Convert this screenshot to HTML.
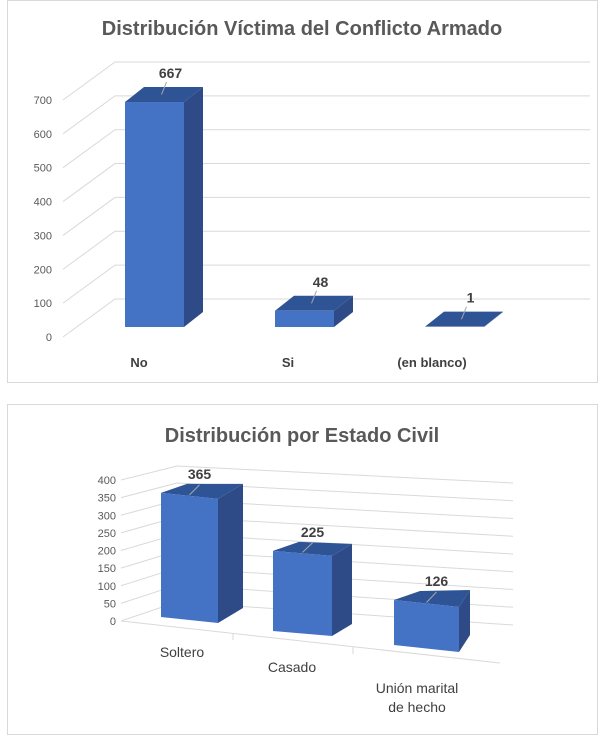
<!DOCTYPE html>
<html><head><meta charset="utf-8"><style>
body{margin:0;background:#fff;width:606px;height:741px;overflow:hidden;font-family:"Liberation Sans",sans-serif}
svg{position:absolute;left:0;top:0}
</style></head><body>
<svg id="c" width="606" height="741">
<rect x="7.5" y="0.5" width="590" height="382" fill="#fff" stroke="#d9d9d9"/>
<text x="302" y="35" text-anchor="middle" font-size="20" font-weight="bold" fill="#595959">Distribución Víctima del Conflicto Armado</text>
<rect x="7.5" y="404.5" width="590" height="330" fill="#fff" stroke="#d9d9d9"/>
<text x="302" y="442" text-anchor="middle" font-size="20" font-weight="bold" fill="#595959">Distribución por Estado Civil</text>
<g id="g1"></g><g id="g2"></g>
</svg>
<script>
const cats1=["No","Si","(en blanco)"];
const vals1=[667,48,1];
const ticks1=[0,100,200,300,400,500,600,700];
const cats2=["Soltero","Casado","Unión marital|de hecho"];
const vals2=[365,225,126];
const ticks2=[0,50,100,150,200,250,300,350,400];
const NS="http://www.w3.org/2000/svg";
function mk(p,t,a){const e=document.createElementNS(NS,t);for(const k in a)e.setAttribute(k,a[k]);p.appendChild(e);return e;}
const g1=document.getElementById('g1'),g2=document.getElementById('g2');
// chart 1
const y1=v=>337-v*0.3386;
ticks1.forEach(t=>{
 const y=y1(t);
 const l=mk(g1,'polyline',{points:`63,${y} 115,${y-38} 590,${y-38}`,fill:'none',stroke:'#d9d9d9','stroke-width':1});
 
 
 const tx=mk(g1,'text',{x:52,y:y+4,'text-anchor':'end','font-size':11,fill:'#595959'});tx.textContent=t;
 
 
});
const bx1=[125,275,425];
vals1.forEach((v,i)=>{
 const x=bx1[i],w=59,dx=19,dy=15,b=327,h=v*0.3373,t=b-h;
 const g=mk(g1,'g',{});
 
 
 mk(g,'polygon',{points:`${x+w},${t} ${x+w+dx},${t-dy} ${x+w+dx},${b-dy} ${x+w},${b}`,fill:'#2f4b87'});
 mk(g,'polygon',{points:`${x},${t} ${x+dx},${t-dy} ${x+w+dx},${t-dy} ${x+w},${t}`,fill:'#2f5496'});
 if(h>1)mk(g,'rect',{x:x,y:t,width:w,height:h,fill:'#4472c4'});
 mk(g,'line',{x1:x+w/2+7,y1:t-dy/2,x2:x+w/2+12,y2:t-20,stroke:'#a6a6a6'});
 const lb=mk(g1,'text',{x:x+w/2+16,y:t-24,'text-anchor':'middle','font-size':14,'font-weight':'bold',fill:'#404040'});lb.textContent=v;
 
 
 const c=mk(g1,'text',{x:[139,288,432][i],y:367,'text-anchor':'middle','font-size':13,'font-weight':'bold',fill:'#404040'});c.textContent=cats1[i];
 
 
});
// chart 2
ticks2.forEach((t,i)=>{
 const yl=621-t*0.3525, yb=602-t*0.34, yr=625-t*0.355;
 const l=mk(g2,'polyline',{points:`121,${yl} 177,${yb} 513,${yr}`,fill:'none',stroke:'#d9d9d9'});
 
 
 const tx=mk(g2,'text',{x:116,y:yl+4,'text-anchor':'end','font-size':11,fill:'#595959'});tx.textContent=t;
 
 
});
mk(g2,'polyline',{points:'121,621 500,663',fill:'none',stroke:'#d9d9d9'});
mk(g2,'line',{x1:233,y1:633,x2:233,y2:640,stroke:'#d9d9d9'});
mk(g2,'line',{x1:353,y1:647,x2:353,y2:654,stroke:'#d9d9d9'});
const geo=[{x:161,w:57,b:617,sk:6,dx:25,dy:-15,s:0.340},{x:273,w:59,b:631,sk:5,dx:20,dy:-12,s:0.356},{x:394,w:65,b:645,sk:7,dx:11,dy:-17,s:0.357}];
vals2.forEach((v,i)=>{
 const G=geo[i],h=v*G.s,x=G.x,w=G.w,b=G.b,t=b-h,sk=G.sk,dx=G.dx,dy=G.dy;
 const g=mk(g2,'g',{});
 
 
 mk(g,'polygon',{points:`${x+w},${t+sk} ${x+w+dx},${t+sk+dy} ${x+w+dx},${b+sk+dy} ${x+w},${b+sk}`,fill:'#2f4b87'});
 mk(g,'polygon',{points:`${x},${t} ${x+26},${t-9} ${x+w+dx},${t+sk+dy} ${x+w},${t+sk}`,fill:'#2f5496'});
 mk(g,'polygon',{points:`${x},${t} ${x+w},${t+sk} ${x+w},${b+sk} ${x},${b}`,fill:'#4472c4'});
 mk(g,'line',{x1:x+w/2,y1:t+sk/2-1,x2:x+w/2+10,y2:t-8,stroke:'#a6a6a6'});
 const lb=mk(g2,'text',{x:x+w/2+10,y:t-14,'text-anchor':'middle','font-size':14,'font-weight':'bold',fill:'#404040'});lb.textContent=v;
 
 
 const parts=cats2[i].split('|');const cx=[182,292,417][i],cy=[657,672,693][i];
 parts.forEach((p,j)=>{const c=mk(g2,'text',{x:cx,y:cy+j*19,'text-anchor':'middle','font-size':14,fill:'#404040'});c.textContent=p;
 
 });
});
</script>
</body></html>
